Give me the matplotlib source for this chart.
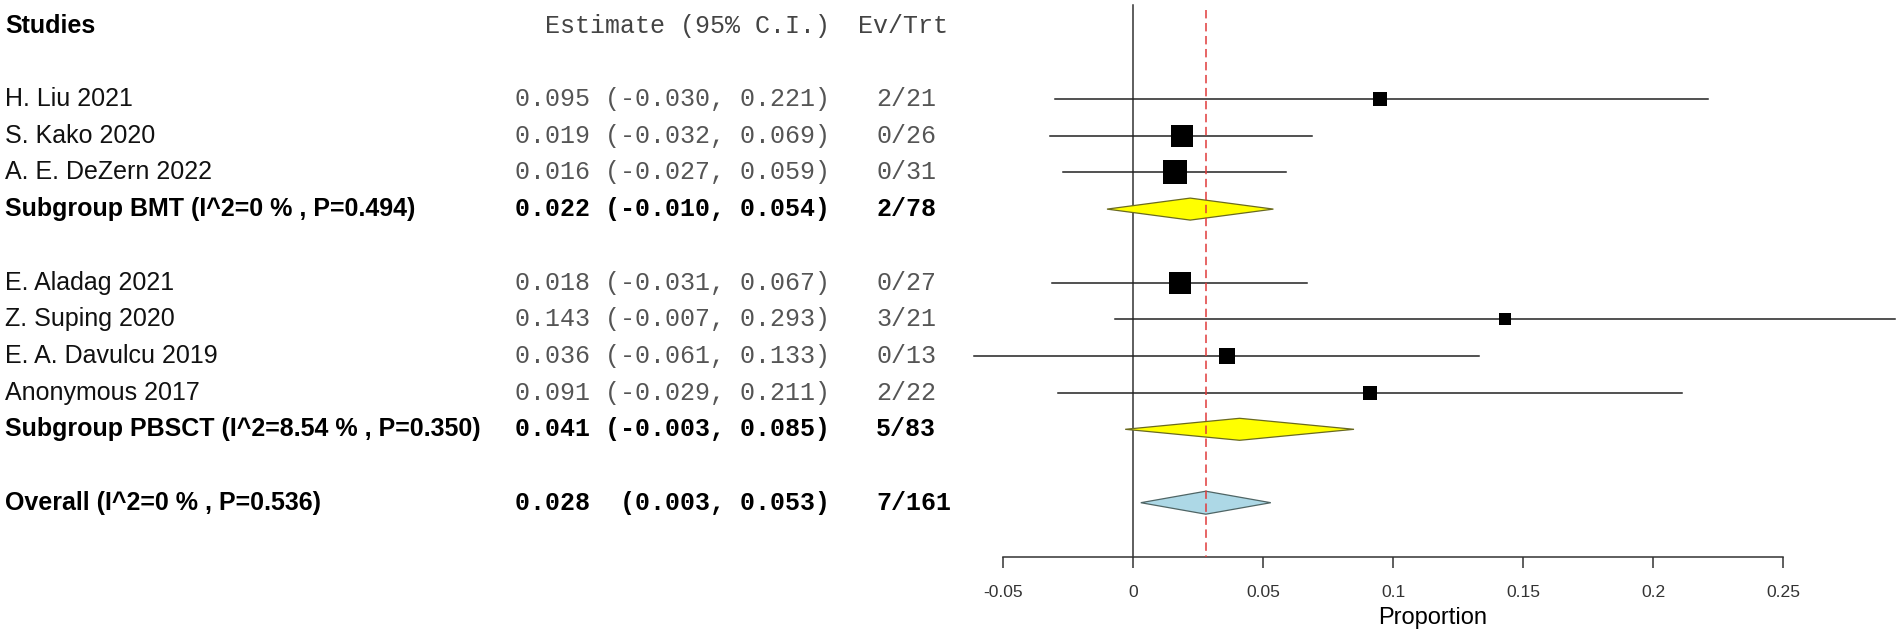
import numpy as np
import matplotlib
matplotlib.use("Agg")
import matplotlib.pyplot as plt
from matplotlib.patches import Polygon
from matplotlib.transforms import blended_transform_factory
from matplotlib.ticker import FuncFormatter

# study level data
studies = ["H. Liu 2021", "S. Kako 2020", "A. E. DeZern 2022",
           "E. Aladag 2021", "Z. Suping 2020", "E. A. Davulcu 2019", "Anonymous 2017"]
group = ["BMT", "BMT", "BMT", "PBSCT", "PBSCT", "PBSCT", "PBSCT"]
est = [0.095, 0.019, 0.016, 0.018, 0.143, 0.036, 0.091]
lo = [-0.030, -0.032, -0.027, -0.031, -0.007, -0.061, -0.029]
hi = [0.221, 0.069, 0.059, 0.067, 0.293, 0.133, 0.211]
events = [2, 0, 0, 0, 3, 0, 2]
totals = [21, 26, 31, 27, 21, 13, 22]
wt = [0.33, 0.84, 1.0, 0.88, 0.29, 0.41, 0.36]   # relative weights (box area)

# subgroup summaries
sub_names = ["BMT", "PBSCT"]
sub_est = [0.022, 0.041]
sub_lo = [-0.010, -0.003]
sub_hi = [0.054, 0.085]
sub_ev = [2, 5]
sub_tot = [78, 83]
sub_i2 = ["0", "8.54"]
sub_p = ["0.494", "0.350"]

# overall summary
all_est, all_lo, all_hi = 0.028, 0.003, 0.053
all_ev, all_tot = 7, 161
all_i2, all_p = "0", "0.536"

ticks = [-0.05, 0, 0.05, 0.1, 0.15, 0.2, 0.25]

W, H = 1901, 639
fig = plt.figure(figsize=(W / 100, H / 100), dpi=100)
ax = fig.add_axes([0, 0, 1, 1])

# pixel based layout
x0_px, ppu = 1133, 2600          # zero position, pixels per unit
row0_px, row_h = 25.6, 36.7
ax.set_xlim(-x0_px / ppu, (W - x0_px) / ppu)
ax.set_ylim((H - row0_px) / row_h, -row0_px / row_h)
tr = blended_transform_factory(fig.transFigure, ax.transData)

def px(x):
    return x / W

def prow(y):
    return (y - row0_px) / row_h

sans = "Liberation Sans"
mono = "Liberation Mono"
fs = 18

def ci_text(e, l, h):
    return "%.3f %8s %.3f)" % (e, "(%.3f," % l, h)

# header
ax.text(px(5), 0, "Studies", transform=tr, family=sans, weight="bold",
        fontsize=fs, va="center", color="black")
ax.text(px(545), 0, "Estimate (95% C.I.)", transform=tr, family=mono,
        fontsize=fs, va="center", color="#444444")
ax.text(px(858), 0, "Ev/Trt", transform=tr, family=mono,
        fontsize=fs, va="center", color="#444444")

# build rows
row = 2
for g, gname in enumerate(sub_names):
    for i in range(len(studies)):
        if group[i] != gname:
            continue
        ax.text(px(5), row, studies[i], transform=tr, family=sans,
                fontsize=fs, va="center", color="#111111")
        ax.text(px(515), row, ci_text(est[i], lo[i], hi[i]), transform=tr,
                family=mono, fontsize=fs, va="center", color="#555555")
        ax.text(px(876), row, "%d/%d" % (events[i], totals[i]), transform=tr,
                family=mono, fontsize=fs, va="center", color="#555555")
        ax.plot([lo[i], hi[i]], [row, row], color="#222222", lw=1.1, zorder=2)
        side = 23.5 * np.sqrt(wt[i]) * 0.72
        ax.plot(est[i], row, marker="s", ms=side, color="black", mec="black",
                mew=0, zorder=3)
        row += 1
    lab = "Subgroup %s (I^2=%s %% , P=%s)" % (gname, sub_i2[g], sub_p[g])
    ax.text(px(5), row, lab, transform=tr, family=sans, weight="bold",
            fontsize=fs, va="center", color="black")
    ax.text(px(515), row, ci_text(sub_est[g], sub_lo[g], sub_hi[g]), transform=tr,
            family=mono, weight="bold", fontsize=fs, va="center", color="black")
    ax.text(px(876), row, "%d/%d" % (sub_ev[g], sub_tot[g]), transform=tr,
            family=mono, weight="bold", fontsize=fs, va="center", color="black")
    hd = 11 / row_h
    ax.add_patch(Polygon([(sub_lo[g], row), (sub_est[g], row - hd),
                          (sub_hi[g], row), (sub_est[g], row + hd)],
                         closed=True, fc="#ffff00", ec="#6a6a20", lw=0.9, zorder=3))
    row += 2

lab = "Overall (I^2=%s %% , P=%s)" % (all_i2, all_p)
ax.text(px(5), row, lab, transform=tr, family=sans, weight="bold",
        fontsize=fs, va="center", color="black")
ax.text(px(515), row, ci_text(all_est, all_lo, all_hi), transform=tr,
        family=mono, weight="bold", fontsize=fs, va="center", color="black")
ax.text(px(876), row, "%d/%d" % (all_ev, all_tot), transform=tr,
        family=mono, weight="bold", fontsize=fs, va="center", color="black")
hd = 11.5 / row_h
ax.add_patch(Polygon([(all_lo, row), (all_est, row - hd),
                      (all_hi, row), (all_est, row + hd)],
                     closed=True, fc="#add8e6", ec="#4f6565", lw=0.9, zorder=3))

# reference lines
axis_y = prow(557)
ax.plot([0, 0], [prow(5), axis_y], color="#333333", lw=1.1, zorder=1)
ax.plot([all_est, all_est], [prow(10), axis_y], color="#e03a3a", lw=1.1,
        ls=(0, (5.5, 3)), zorder=4)

# x axis
for s in ["top", "left", "right"]:
    ax.spines[s].set_visible(False)
ax.spines["bottom"].set_position(("data", axis_y))
ax.spines["bottom"].set_bounds(ticks[0], ticks[-1])
ax.spines["bottom"].set_color("#333333")
ax.spines["bottom"].set_linewidth(1.1)
ax.set_yticks([])
ax.set_xticks(ticks)
ax.xaxis.set_major_formatter(FuncFormatter(lambda v, p: "%g" % round(v, 3)))
ax.tick_params(axis="x", direction="out", length=8, width=1.1, color="#333333",
               pad=12, labelsize=12.6, labelcolor="#333333")
for t in ax.get_xticklabels():
    t.set_family(sans)
ax.text(px(1433), prow(618), "Proportion", transform=tr, family=sans,
        fontsize=17, ha="center", va="center", color="black")

fig.savefig("out.png", dpi=100)
